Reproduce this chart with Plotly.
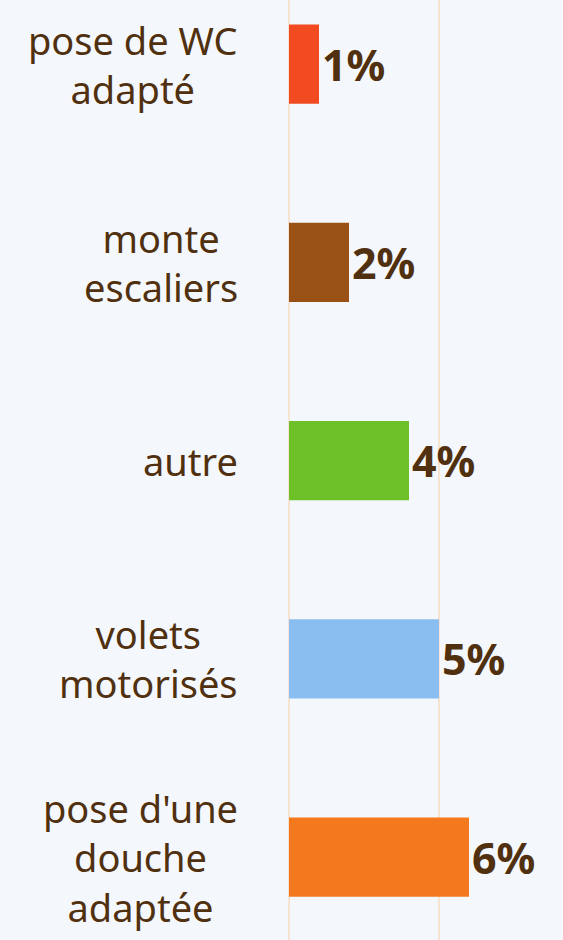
import plotly.graph_objects as go

categories = ["pose de WC<br>adapté", "monte<br>escaliers", "autre", "volets<br>motorisés", "pose d'une<br>douche<br>adaptée"]
values = [1, 2, 4, 5, 6]
value_labels = ["1%", "2%", "4%", "5%", "6%"]
colors = ["#F24B21", "#9A5116", "#6DC027", "#8BBEF0", "#F4791E"]

TEXT = "#50300F"
FONT = "Noto Sans"
BG = "#F4F8FC"

fig = go.Figure(go.Bar(
    x=values, y=list(range(len(categories))), orientation="h",
    marker=dict(color=colors, line=dict(width=0)),
    width=0.4,
    text=value_labels, textposition="outside", cliponaxis=False,
    textfont=dict(family=FONT, size=43, color=TEXT, weight="bold"),
))

for i, c in enumerate(categories):
    fig.add_annotation(
        x=0, xref="paper", y=i, yref="y", text=c, showarrow=False,
        xanchor="right", align="center", xshift=-49,
        font=dict(family=FONT, size=38, color=TEXT),
    )

fig.update_layout(
    width=563, height=940,
    margin=dict(l=289, r=0, t=0, b=0),
    paper_bgcolor=BG, plot_bgcolor=BG,
    showlegend=False,
    xaxis=dict(range=[0, 9.133], dtick=5, showticklabels=False,
               gridcolor="#F6E3D2", gridwidth=2, zeroline=True,
               zerolinecolor="#F6E3D2", zerolinewidth=2),
    yaxis=dict(range=[4.418, -0.323], showticklabels=False, showgrid=False,
               zeroline=False),
)

fig.write_html(
    "out.html",
    config={"displayModeBar": False},
    post_script="document.body.style.margin='0px';document.body.style.background='" + BG + "';",
)
